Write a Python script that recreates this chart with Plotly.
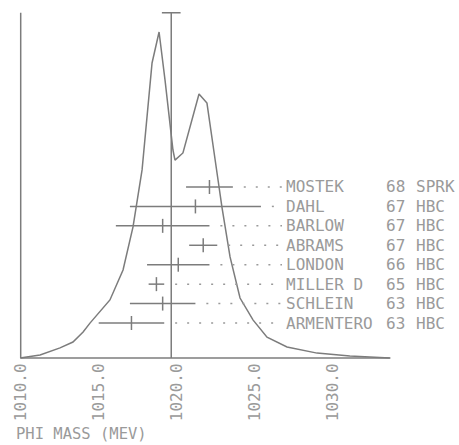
import plotly.graph_objects as go

# ---------------- data ----------------
tick_values = [1010, 1015, 1020, 1025, 1030]
tick_labels = ["1010.0", "1015.0", "1020.0", "1025.0", "1030.0"]

experiments = ["ARMENTERO", "SCHLEIN", "MILLER D", "LONDON", "ABRAMS", "BARLOW", "DAHL", "MOSTEK"]
years = ["63", "63", "65", "66", "67", "67", "67", "68"]
techniques = ["HBC", "HBC", "HBC", "HBC", "HBC", "HBC", "HBC", "SPRK"]
values = [1017.1, 1019.1, 1018.7, 1020.1, 1021.7, 1019.1, 1021.2, 1022.1]
errors = [2.1, 2.1, 0.5, 2.0, 0.9, 3.0, 4.2, 1.5]

mean_value = 1019.65
mean_error = 0.6

curve_mass = [1009.96, 1011.24, 1012.52, 1013.35, 1014.0, 1014.44, 1015.72, 1016.56,
              1017.2, 1017.46, 1017.78, 1018.42, 1018.87, 1019.25, 1019.76, 1019.89,
              1020.40, 1021.43, 1021.94, 1022.65, 1022.90, 1023.42, 1024.06, 1024.89,
              1025.79, 1027.07, 1029.0, 1031.1, 1033.66]
curve_height = [0.0, 0.009, 0.031, 0.049, 0.080, 0.107, 0.178, 0.270,
                0.402, 0.475, 0.577, 0.905, 1.0, 0.853, 0.638, 0.607,
                0.629, 0.810, 0.782, 0.546, 0.463, 0.310, 0.184, 0.117,
                0.064, 0.034, 0.015, 0.006, 0.0]

axis_end = 1033.7
axis_top = 1.059
leader_end = 1026.75
name_x, year_x, tech_x = 1026.94, 1033.35, 1035.28

# ---------------- geometry (pixel mapping) ----------------
W, H = 459, 445
X0_PX, PX_PER_MEV = 20.7, 15.6
Y0_PX, PX_PER_UNIT = 358.0, 326.0
ROW0_PX, ROW_STEP = 323.0, 19.43

xr = [1010 - X0_PX / PX_PER_MEV, 1010 + (W - X0_PX) / PX_PER_MEV]
yr = [(Y0_PX - H) / PX_PER_UNIT, Y0_PX / PX_PER_UNIT]
y2r = [(ROW0_PX - H) / ROW_STEP, ROW0_PX / ROW_STEP]

LINE = "#7c7c7c"
TEXT = "#9a9a9a"
FONT = "DejaVu Sans Mono"

fig = go.Figure()

# axes lines
fig.add_trace(go.Scatter(x=[tick_values[0], axis_end], y=[0, 0], mode="lines",
                         line=dict(color=LINE, width=1.5), hoverinfo="skip"))
fig.add_trace(go.Scatter(x=[tick_values[0], tick_values[0]], y=[0, axis_top], mode="lines",
                         line=dict(color=LINE, width=1.5), hoverinfo="skip"))

# mean line with cap
fig.add_trace(go.Scatter(x=[mean_value, mean_value], y=[0, axis_top], mode="lines",
                         line=dict(color=LINE, width=1.5), hoverinfo="skip"))
fig.add_trace(go.Scatter(x=[mean_value - mean_error, mean_value + mean_error], y=[axis_top, axis_top],
                         mode="lines", line=dict(color=LINE, width=1.5), hoverinfo="skip"))

# ideogram curve
fig.add_trace(go.Scatter(x=curve_mass, y=curve_height, mode="lines",
                         line=dict(color=LINE, width=1.5), hoverinfo="skip"))

rows = list(range(len(experiments)))

# dotted leaders
for i in rows:
    fig.add_trace(go.Scatter(x=[values[i] + errors[i] + 0.7, leader_end], y=[i, i], yaxis="y2",
                             mode="lines", line=dict(color=TEXT, width=1.5, dash="2px,10px"),
                             hoverinfo="skip"))

# measurements
fig.add_trace(go.Scatter(x=values, y=rows, yaxis="y2", mode="markers",
                         marker=dict(symbol="line-ns-open", size=10, color=LINE,
                                     line=dict(color=LINE, width=1.5)),
                         error_x=dict(type="data", array=errors, color=LINE, thickness=1.5, width=0),
                         hoverinfo="skip"))

annotations = []
for i in rows:
    for txt, xx in ((experiments[i], name_x), (years[i], year_x), (techniques[i], tech_x)):
        annotations.append(dict(x=xx, y=i, xref="x", yref="y2", text=txt, showarrow=False,
                                xanchor="left", yanchor="middle", borderpad=0,
                                font=dict(family=FONT, size=16, color=TEXT)))

for v, lab in zip(tick_values, tick_labels):
    annotations.append(dict(x=v, y=(Y0_PX - 362.5) / PX_PER_UNIT, xref="x", yref="y", text=lab,
                            showarrow=False, textangle=-90, xanchor="center", yanchor="top",
                            borderpad=0, font=dict(family=FONT, size=16, color=TEXT)))

annotations.append(dict(x=1010 + (15 - X0_PX) / PX_PER_MEV, y=(Y0_PX - 443.5) / PX_PER_UNIT,
                        xref="x", yref="y", text="PHI MASS (MEV)", showarrow=False,
                        xanchor="left", yanchor="bottom", borderpad=0,
                        font=dict(family=FONT, size=15.5, color=TEXT)))

fig.update_layout(
    width=W, height=H, margin=dict(l=0, r=0, t=0, b=0),
    paper_bgcolor="white", plot_bgcolor="white", showlegend=False,
    xaxis=dict(range=xr, visible=False, fixedrange=True),
    yaxis=dict(range=yr, visible=False, fixedrange=True),
    yaxis2=dict(range=y2r, visible=False, overlaying="y", fixedrange=True),
    annotations=annotations,
)

fig.write_html("out.html", config={"displayModeBar": False})
